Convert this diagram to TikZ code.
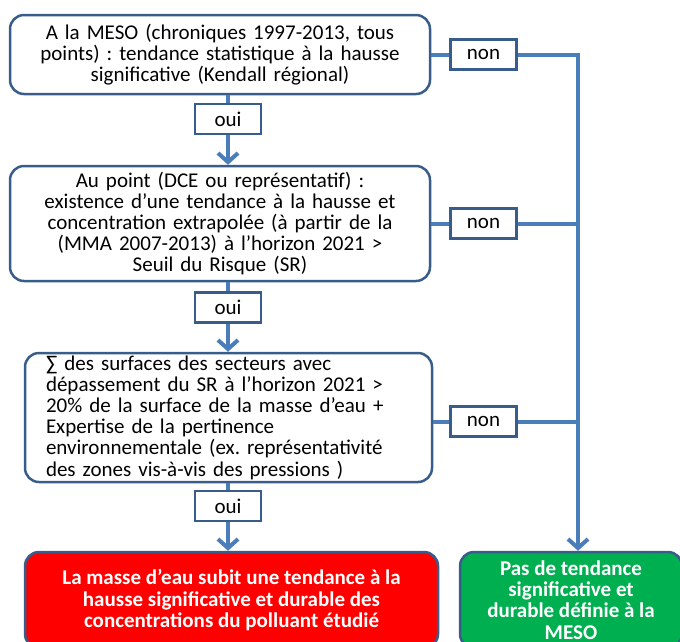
\documentclass[tikz,border=0pt]{standalone}
\usepackage{fontspec}
\setmainfont{Carlito}
\frenchspacing
\usetikzlibrary{arrows.meta,positioning,calc,shapes}
\definecolor{linkblue}{RGB}{74,126,187}
\definecolor{edgeblue}{RGB}{56,93,138}
\definecolor{boxred}{RGB}{255,0,0}
\definecolor{boxgreen}{RGB}{0,176,80}

\tikzset{
  question/.style={draw=edgeblue, line width=2.5pt, rounded corners=14pt, fill=white, inner sep=0pt},
  answer/.style={draw=edgeblue, line width=2.5pt, fill=white, minimum width=66pt, minimum height=30pt, inner sep=0pt},
  verdict/.style={draw=edgeblue, line width=2.5pt, rounded corners=14pt, text=white, align=center, inner sep=0pt,
    font=\fontsize{21}{21.2}\selectfont\bfseries},
  link/.style={linkblue, line width=4pt},
  arrowlink/.style={link, -{Straight Barb[length=9pt,width=20pt]}}
}

\begin{document}
\begin{tikzpicture}[x=1pt,y=-1pt,font=\fontsize{21}{21.2}\selectfont]
        \path[use as bounding box] (0,0) rectangle (680,641);
        \clip (0,0) rectangle (680,641);

        % questions
        \node[question, minimum width=420pt, minimum height=79pt, text width=410pt, align=center] (meso) at (220,54.5)
          {A la MESO (chroniques 1997-2013, tous\\ points) : tendance statistique à la hausse\\ significative (Kendall régional)};
        \node[question, minimum width=420pt, minimum height=115pt, text width=410pt, align=center] (point) at (220,223.5)
          {Au point (DCE ou représentatif) :\\ existence d’une tendance à la hausse et\\ concentration extrapolée (à partir de la\\ (MMA 2007-2013) à l’horizon 2021 >\\ Seuil du Risque (SR)};
        \node[question, minimum width=407pt, minimum height=129pt, text width=365pt, align=left] (surf) at (228.5,417.5)
          {∑ des surfaces des secteurs avec\\ dépassement du SR à l’horizon 2021 >\\ 20\% de la surface de la masse d’eau +\\ Expertise de la pertinence\\ environnementale (ex. représentativité\\ des zones vis-à-vis des pressions )};

        % conclusions
        \node[verdict, fill=boxred, minimum width=413pt, minimum height=96pt] (trend) at (231.5,600)
          {La masse d’eau subit une tendance à la\\ hausse significative et durable des\\ concentrations du polluant étudié};
        \node[verdict, fill=boxgreen, minimum width=222pt, minimum height=96pt] (notrend) at (571,600)
          {Pas de tendance\\ significative et\\ durable définie à la\\ MESO};

        % oui / non
        \node[answer] (oui1) at (228,119) {oui};
        \node[answer] (oui2) at (228,307.5) {oui};
        \node[answer] (oui3) at (228,506) {oui};
        \node[answer] (non1) at (483.5,54.5) {non};
        \node[answer] (non2) at (483.5,223.5) {non};
        \node[answer] (non3) at (483.5,421.5) {non};
        \coordinate (trunk) at (578,54.5);

        \draw[link] (meso.south -| oui1) -- (oui1);
        \draw[arrowlink] (oui1) -- (oui1 |- point.north);
        \draw[link] (point.south -| oui2) -- (oui2);
        \draw[arrowlink] (oui2) -- (oui2 |- surf.north);
        \draw[link] (surf.south -| oui3) -- (oui3);
        \draw[arrowlink] (oui3) -- (oui3 |- trend.north);

        \draw[link] (meso) -- (non1);
        \draw[link] (point) -- (non2);
        \draw[link] (surf.east |- non3) -- (non3);
        \draw[arrowlink] (non1) -- (trunk) -- (trunk |- notrend.north);
        \draw[link] (non2) -- (trunk |- non2);
        \draw[link] (non3) -- (trunk |- non3);
\end{tikzpicture}
\end{document}
